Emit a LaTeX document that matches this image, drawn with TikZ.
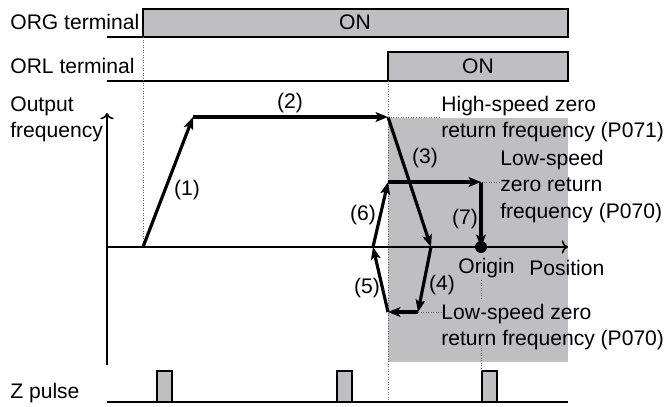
\documentclass[tikz,border=0pt]{standalone}
\usepackage{fontspec}
\setmainfont{Liberation Sans}
\usetikzlibrary{arrows.meta}
\definecolor{zonegray}{RGB}{191,191,194}

\tikzset{
  lbl/.style={anchor=west, inner sep=0pt},
  blocklbl/.style={anchor=north west, inner sep=0pt, align=left},
  onbox/.style={draw, line width=0.9pt, fill=zonegray},
  sig/.style={line width=0.9pt},
  run/.style={line width=1.8pt, -{Stealth[length=7pt,width=5.5pt,inset=1.5pt]}},
  guide/.style={densely dotted, line width=0.45pt, black!60},
  stepnum/.style={inner sep=0pt}
}

\begin{document}
\begin{tikzpicture}[x=0.02cm, y=-0.02cm, font=\fontsize{12}{15}\selectfont]
          \useasboundingbox (0,0) rectangle (665,406);

          % shaded zone after ORL on
          \fill[zonegray] (388,118) rectangle (568,362);

          % signal rows
          \node[lbl] (orglbl) at (10,22) {ORG terminal};
          \node[lbl] (orllbl) at (10,66) {ORL terminal};
          \node[lbl] (zlbl) at (10,393) {Z pulse};
          \node[blocklbl] (freqlbl) at (10,96) {Output\\frequency};

          \draw[sig] (107,37) -- (143,37);
          \draw[onbox] (143,37) rectangle (568,9);
          \node (orgon) at (355,22) {ON};
          \draw[sig] (107,81) -- (388,81);
          \draw[onbox] (388,81) rectangle (568,52);
          \node (orlon) at (478,66) {ON};

          \draw[sig] (107,402) -- (568,402);
          \foreach \px in {157,337,482}
            \draw[onbox] (\px,402) rectangle ++(15,-31);

          % guides
          \draw[guide] (143,37) -- (143,247);
          \draw[guide] (388,81) -- (388,402);

          % axes
          \draw[sig, ->] (107,365) -- (107,113);
          \draw[sig, ->] (107,247) -- (568,247);

          % path of the motion
          \coordinate (s0) at (143,247);
          \coordinate (s1) at (193,117);
          \coordinate (s2) at (388,117);
          \coordinate (s3) at (431,247);
          \coordinate (s4) at (418,312);
          \coordinate (s5) at (388,312);
          \coordinate (s6) at (373,247);
          \coordinate (s7) at (388,182);
          \coordinate (s8) at (481,182);
          \coordinate (org) at (481,247);

          \draw[run] (s0) -- (s1);
          \draw[run] (s1) -- (s2);
          \draw[run] (s2) -- (s3);
          \draw[run] (s3) -- (s4);
          \draw[run] (s4) -- (s5);
          \draw[run] (s5) -- (s6);
          \draw[run] (s6) -- (s7);
          \draw[run] (s7) -- (s8);
          \draw[run] (s8) -- (org);
          \fill (org) circle (6);

          \node[stepnum] (n1) at (187,190) {(1)};
          \node[stepnum] (n2) at (290,103) {(2)};
          \node[stepnum] (n3) at (425,158) {(3)};
          \node[stepnum] (n4) at (442,285) {(4)};
          \node[stepnum] (n5) at (367,288) {(5)};
          \node[stepnum] (n6) at (363,215) {(6)};
          \node[stepnum] (n7) at (465,219) {(7)};

          % frequency notes
          \node[blocklbl] (hslbl) at (441,96) {High-speed zero\\return frequency (P071)};
          \draw[guide] (s2) -- (hslbl.west |- s2);
          \node[blocklbl] (lslbl) at (500,150) {Low-speed\\zero return\\frequency (P070)};
          \draw[guide] (s8) -- (lslbl.west |- s8);
          \node[blocklbl] (lslbl2) at (441,304) {Low-speed zero\\return frequency (P070)};
          \draw[guide] (s4) -- (lslbl2.west |- s4);

          \node[lbl] (originlbl) at (458,268) {Origin};
          \node[lbl] (poslbl) at (529,268) {Position};
          \draw[guide] (481,280) -- (481,298);
          \draw[guide] (481,345) -- (481,371);
        \end{tikzpicture}
\end{document}
